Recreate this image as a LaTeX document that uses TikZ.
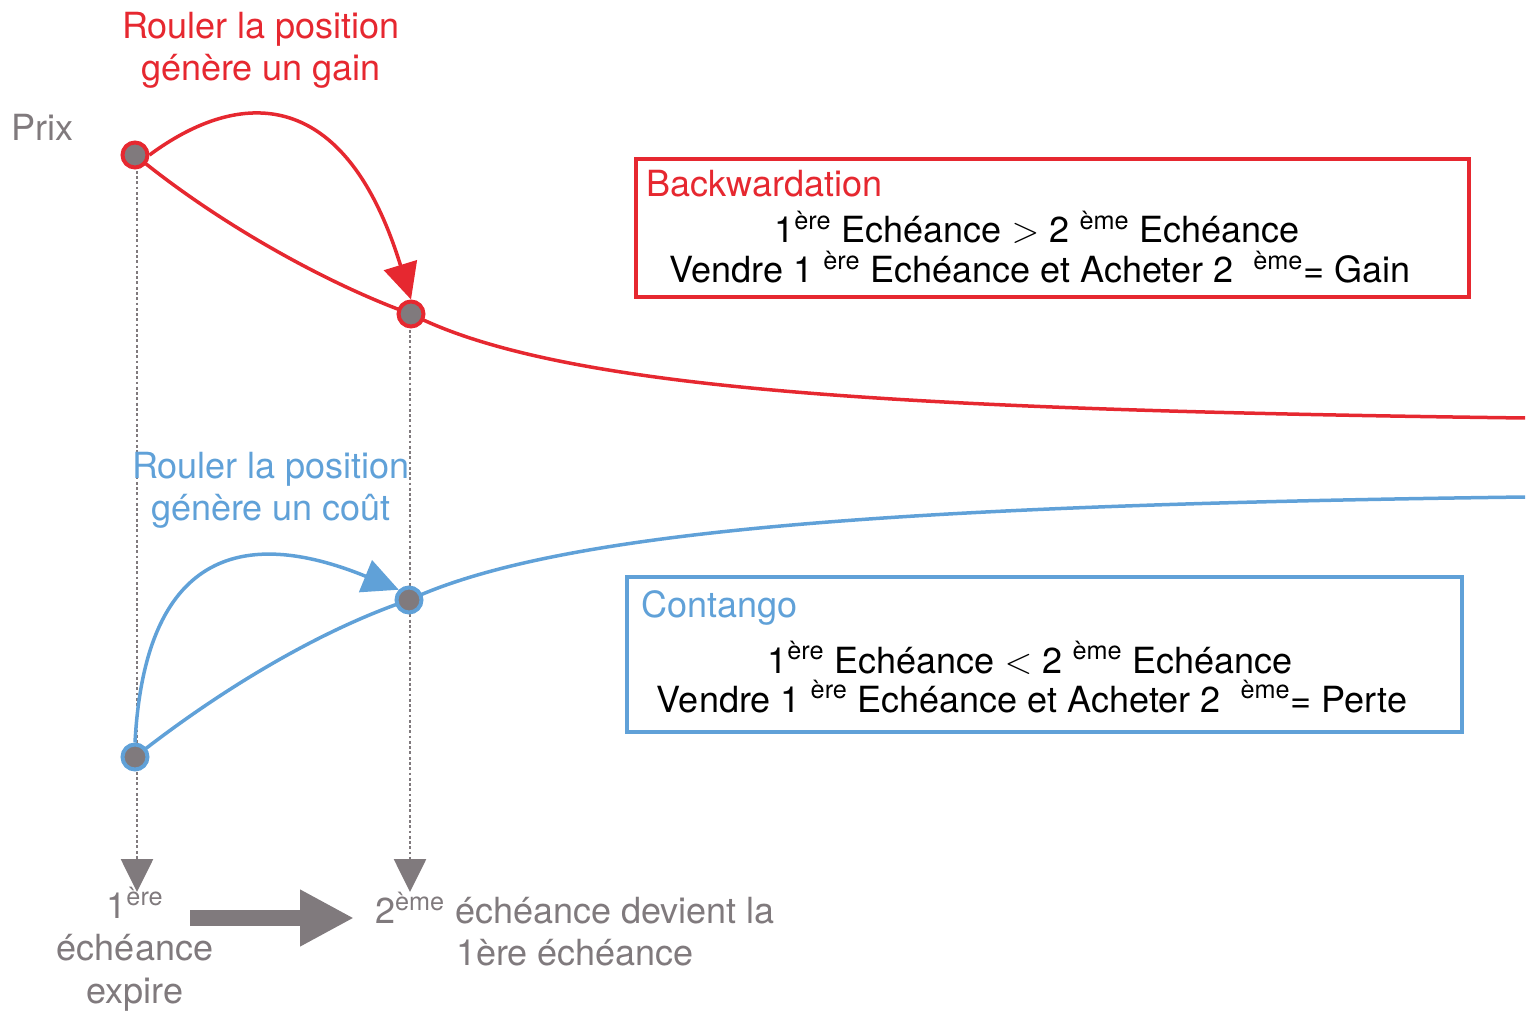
\documentclass[tikz,border=0pt]{standalone}
\usepackage{fontspec}
\setmainfont{TeX Gyre Heros}
\usetikzlibrary{arrows.meta,backgrounds}
\definecolor{backRed}{RGB}{230,40,48}
\definecolor{contBlue}{RGB}{96,161,216}
\definecolor{tickGray}{RGB}{128,122,125}
\tikzset{
  % node options
  dot/.style={circle,fill=tickGray,inner sep=0pt,minimum size=0.5cm,line width=0.08cm},
  dotRed/.style={dot,draw=backRed},
  dotBlue/.style={dot,draw=contBlue},
  txt/.style={font=\fontsize{20.5}{24}\selectfont,align=center,inner sep=0pt},
  txtRed/.style={txt,text=backRed},
  txtBlue/.style={txt,text=contBlue},
  txtGray/.style={txt,text=tickGray},
  frame/.style={line width=0.08cm,inner sep=0pt},
  frameRed/.style={frame,draw=backRed,minimum width=16.66cm,minimum height=2.76cm},
  frameBlue/.style={frame,draw=contBlue,minimum width=16.7cm,minimum height=3.1cm},
  % path options
  curve/.style={line width=0.07cm},
  roll/.style={curve,-{Triangle[length=0.72cm,width=0.68cm]}},
  expiry/.style={tickGray,line width=0.055cm,dash pattern={on 1.6pt off 1.4pt},-{Triangle[length=0.66cm,width=0.64cm]}},
  shift arrow/.style={tickGray,line width=0.32cm,-{Triangle[length=1.08cm,width=1.06cm]}},
}
\begin{document}
\begin{tikzpicture}[x=0.02cm,y=-0.02cm]
  \useasboundingbox (0,0) rectangle (1530,1016);
  % price points
  \node[dotRed] (back1) at (135,155) {};
  \node[dotRed] (back2) at (411,314) {};
  \node[dotBlue] (cont1) at (135,757) {};
  \node[dotBlue] (cont2) at (409,600) {};
  \coordinate (backEnd) at (1525,418);
  \coordinate (contEnd) at (1525,497);
  \coordinate (expiry1) at (137,892);
  \coordinate (expiry2) at (410,892);
  \coordinate (shiftFrom) at (190,918);
  \coordinate (shiftTo) at (354,918);

  % labels
  \node[txtRed] (gainNote) at (261,50) {Rouler la position\\génère un gain};
  \node[txtGray,anchor=west] (price) at (11,127) {Prix};
  \node[txtBlue] (costNote) at (271,490) {Rouler la position\\génère un coût};

  % boxes
  \node[frameRed] (backBox) at (1052.5,228) {};
  \node[txtRed,anchor=base west] (backTitle) at (646,197) {Backwardation};
  \node[txt,anchor=base] (backRule) at (1037,243)
    {1\textsuperscript{ère} Echéance $>$ 2 \textsuperscript{ème} Echéance};
  \node[txt,anchor=base] (backTrade) at (1040,283)
    {Vendre 1 \textsuperscript{ère} Echéance et Acheter 2 \ \textsuperscript{ème}= Gain};
  \node[frameBlue] (contBox) at (1044.5,654.5) {};
  \node[txtBlue,anchor=base west] (contTitle) at (641,617) {Contango};
  \node[txt,anchor=base] (contRule) at (1030,673)
    {1\textsuperscript{ère} Echéance $<$ 2 \textsuperscript{ème} Echéance};
  \node[txt,anchor=base] (contTrade) at (1032,712)
    {Vendre 1 \textsuperscript{ère} Echéance et Acheter 2 \ \textsuperscript{ème}= Perte};

  % maturities
  \node[txtGray] (oldMat) at (135,949) {1\textsuperscript{ère}\\échéance\\expire};
  \node[txtGray] (newMat) at (575,929) {2\textsuperscript{ème} échéance devient la\\1ère échéance};
  \draw[shift arrow] (shiftFrom) -- (shiftTo);

  \begin{scope}[on background layer]
    \draw[expiry] (back1.center -| expiry1) -- (expiry1);
    \draw[expiry] (back2.center -| expiry2) -- (expiry2);
    \draw[curve,backRed] (back1.center) .. controls (220,225) and (330,285) .. (back2.center)
      .. controls (560,390) and (900,410) .. (backEnd);
    \draw[curve,contBlue] (cont1.center) .. controls (220,690) and (320,630) .. (cont2.center)
      .. controls (560,530) and (900,505) .. (contEnd);
  \end{scope}
  \draw[roll,backRed] (back1.east) .. controls (240,88) and (345,85) .. (back2.north);
  \draw[roll,contBlue] (cont1.north) .. controls (145,555) and (240,525) .. (cont2.north west);
\end{tikzpicture}
\end{document}
